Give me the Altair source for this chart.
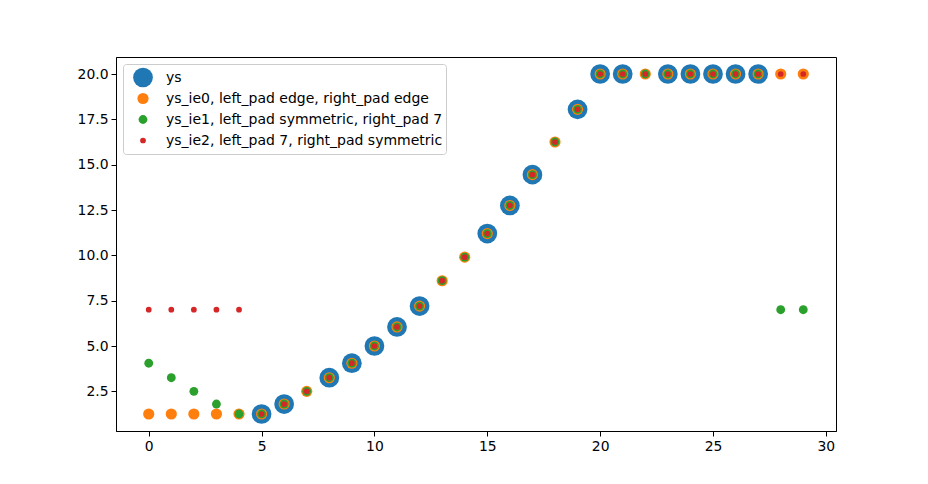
import altair as alt
import pandas as pd

# x positions 0..29
x_vals = list(range(30))

# original series (gaps are missing values)
ys = [None, None, None, None, None,
      1.25, 1.8, None, 3.25, 4.05, 5.0, 6.05, 7.2, None, None,
      11.2, 12.75, 14.45, None, 18.05, 20, 20, None, 20, 20,
      20, 20, 20, None, None]

# filled versions
ys_ie0 = [1.25, 1.25, 1.25, 1.25, 1.25,
          1.25, 1.8, 2.5, 3.25, 4.05, 5.0, 6.05, 7.2, 8.6, 9.9,
          11.2, 12.75, 14.45, 16.25, 18.05, 20, 20, 20, 20, 20,
          20, 20, 20, 20, 20]
ys_ie1 = [4.05, 3.25, 2.5, 1.8, 1.25,
          1.25, 1.8, 2.5, 3.25, 4.05, 5.0, 6.05, 7.2, 8.6, 9.9,
          11.2, 12.75, 14.45, 16.25, 18.05, 20, 20, 20, 20, 20,
          20, 20, 20, 7, 7]
ys_ie2 = [7, 7, 7, 7, 7,
          1.25, 1.8, 2.5, 3.25, 4.05, 5.0, 6.05, 7.2, 8.6, 9.9,
          11.2, 12.75, 14.45, 16.25, 18.05, 20, 20, 20, 20, 20,
          20, 20, 20, 20, 20]

series_names = [
    "ys",
    "ys_ie0, left_pad edge, right_pad edge",
    "ys_ie1, left_pad symmetric, right_pad 7",
    "ys_ie2, left_pad 7, right_pad symmetric",
]
series_colors = ["#1f77b4", "#ff7f0e", "#2ca02c", "#d62728"]
series_sizes = [390, 125, 78, 33]

x_ticks = [0, 5, 10, 15, 20, 25, 30]
y_ticks = [2.5, 5.0, 7.5, 10.0, 12.5, 15.0, 17.5, 20.0]

rows = []
for rank, (name, values) in enumerate(zip(series_names, [ys, ys_ie0, ys_ie1, ys_ie2])):
    for x, y in zip(x_vals, values):
        if y is not None:
            rows.append({"x": x, "y": y, "series": name, "rank": rank})
df = pd.DataFrame(rows)

chart = (
    alt.Chart(df)
    .mark_circle(opacity=1)
    .encode(
        x=alt.X(
            "x:Q",
            title=None,
            scale=alt.Scale(domain=[-1.45, 30.45], nice=False, zero=False),
            axis=alt.Axis(values=x_ticks, format="d"),
        ),
        y=alt.Y(
            "y:Q",
            title=None,
            scale=alt.Scale(domain=[0.3125, 20.9375], nice=False, zero=False),
            axis=alt.Axis(values=y_ticks, format=".1f"),
        ),
        color=alt.Color(
            "series:N",
            scale=alt.Scale(domain=series_names, range=series_colors),
            legend=alt.Legend(title=None),
        ),
        size=alt.Size(
            "series:N",
            scale=alt.Scale(type="ordinal", domain=series_names, range=series_sizes),
            legend=alt.Legend(title=None),
        ),
        order=alt.Order("rank:Q"),
    )
    .properties(
        width=720,
        height=374,
        autosize="none",
        padding={"left": 108, "top": 49, "right": 84, "bottom": 45},
    )
    .configure_view(stroke="black", strokeWidth=1)
    .configure_axis(
        grid=False,
        domainColor="black",
        tickColor="black",
        labelColor="black",
        labelFont="DejaVu Sans",
        labelFontSize=13.9,
        tickSize=5,
        labelPadding=3,
        domainWidth=1,
        tickWidth=1,
    )
    .configure_legend(
        orient="top-left",
        offset=7,
        padding=3,
        strokeColor="#cccccc",
        fillColor="white",
        cornerRadius=3,
        labelFont="DejaVu Sans",
        labelFontSize=14,
        labelColor="black",
        labelLimit=0,
        labelOffset=13,
        symbolOffset=7,
        clipHeight=21,
        rowPadding=0,
        symbolStrokeWidth=0,
        symbolOpacity=1,
    )
)

chart.save("out.html", embed_options={"renderer": "svg", "actions": False})
